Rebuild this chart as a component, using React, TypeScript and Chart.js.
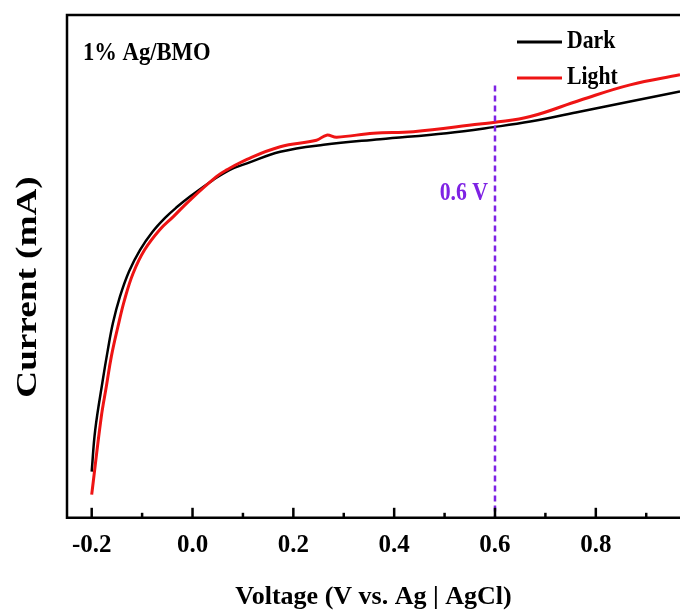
import React, { useEffect, useRef } from 'react';
import { Chart, registerables } from 'chart.js';

Chart.register(...registerables);

// ---- data (current in arbitrary units, no y tick labels) ----
const darkVoltage = [-0.2, -0.193, -0.178, -0.168, -0.158, -0.144, -0.126, -0.104, -0.08, -0.055, -0.031, -0.005, 0.041, 0.074, 0.108, 0.174, 0.26, 0.372, 0.504, 0.597, 0.67, 0.77, 0.868, 0.967];
const darkCurrent = [9.2, 17.5, 27.4, 33.4, 38.7, 44.0, 49.0, 53.3, 56.8, 59.6, 61.8, 63.9, 67.2, 69.2, 70.5, 72.8, 74.2, 75.3, 76.5, 77.7, 78.8, 80.8, 82.8, 84.8];
const lightVoltage = [-0.2, -0.181, -0.171, -0.161, -0.148, -0.135, -0.118, -0.095, -0.065, -0.038, -0.005, 0.048, 0.068, 0.108, 0.174, 0.246, 0.266, 0.286, 0.359, 0.438, 0.57, 0.597, 0.67, 0.77, 0.868, 0.967];
const lightCurrent = [4.6, 20.1, 26.1, 32.1, 38.0, 43.3, 48.6, 53.3, 57.3, 59.9, 63.2, 67.9, 69.2, 71.3, 73.8, 75.1, 76.1, 75.7, 76.5, 76.8, 78.3, 78.6, 79.8, 83.1, 86.1, 88.1];
const seriesLabels = ['Dark', 'Light'];
const majorTicks = [-0.2, 0.0, 0.2, 0.4, 0.6, 0.8];
const minorTicks = [-0.1, 0.1, 0.3, 0.5, 0.7, 0.9];
const markerVoltage = 0.6;
const markerTopCurrent = 86;
const markerLabel = '0.6 V';
const sampleLabel = '1% Ag/BMO';
const xTitle = 'Voltage (V vs. Ag | AgCl)';
const yTitle = 'Current (mA)';

const FONT = "'Liberation Serif', 'Times New Roman', serif";
const PURPLE = '#7e22e4';
const RED = '#ee1414';
const BLACK = '#000000';

function drawText(ctx: any, text: string, x: number, y: number, size: number, color: string, align: string, sx: number) {
  ctx.save();
  ctx.translate(x, y);
  ctx.scale(sx, 1);
  ctx.fillStyle = color;
  ctx.font = `bold ${size}px ${FONT}`;
  ctx.textAlign = align;
  ctx.textBaseline = 'middle';
  ctx.fillText(text, 0, 0);
  ctx.restore();
}

const decorPlugin = {
  id: 'decor',
  afterDatasetsDraw(chart: any) {
    const { ctx, chartArea: a, scales } = chart;
    const x = scales.x;
    const y = scales.y;
    ctx.save();
    // vertical dashed marker
    const mx = x.getPixelForValue(markerVoltage);
    ctx.strokeStyle = PURPLE;
    ctx.lineWidth = 2.5;
    ctx.setLineDash([6, 4]);
    ctx.beginPath();
    ctx.moveTo(mx, y.getPixelForValue(markerTopCurrent));
    ctx.lineTo(mx, a.bottom);
    ctx.stroke();
    ctx.setLineDash([]);
    drawText(ctx, markerLabel, mx - 7, 194, 25, PURPLE, 'right', 0.87);

    // frame (left, top, bottom)
    ctx.strokeStyle = '#000';
    ctx.lineWidth = 2.5;
    ctx.beginPath();
    ctx.moveTo(a.right + 2, a.top);
    ctx.lineTo(a.left, a.top);
    ctx.lineTo(a.left, a.bottom);
    ctx.lineTo(a.right + 2, a.bottom);
    ctx.stroke();

    // inward ticks
    majorTicks.forEach((v) => {
      const px = x.getPixelForValue(v);
      ctx.beginPath();
      ctx.moveTo(px, a.bottom);
      ctx.lineTo(px, a.bottom - 10);
      ctx.stroke();
    });
    minorTicks.forEach((v) => {
      const px = x.getPixelForValue(v);
      ctx.beginPath();
      ctx.moveTo(px, a.bottom);
      ctx.lineTo(px, a.bottom - 5);
      ctx.stroke();
    });

    // sample label
    drawText(ctx, sampleLabel, a.left + 16, 53, 26, '#000', 'left', 0.87);

    // legend
    chart.data.datasets.forEach((ds: any, i: number) => {
      const ly = 42 + i * 36;
      ctx.strokeStyle = ds.borderColor;
      ctx.lineWidth = 3;
      ctx.beginPath();
      ctx.moveTo(517, ly);
      ctx.lineTo(562, ly);
      ctx.stroke();
      drawText(ctx, ds.label, 567, ly, 25, '#000', 'left', 0.87);
    });

    // y axis title (rotated)
    ctx.save();
    ctx.translate(28, 287);
    ctx.rotate(-Math.PI / 2);
    ctx.scale(1.2, 0.95);
    ctx.fillStyle = '#000';
    ctx.font = `bold 31px ${FONT}`;
    ctx.textAlign = 'center';
    ctx.textBaseline = 'middle';
    ctx.fillText(yTitle, 0, 0);
    ctx.restore();

    ctx.restore();
  },
};

export default function App() {
  const canvasRef = useRef<HTMLCanvasElement | null>(null);

  useEffect(() => {
    const canvas = canvasRef.current;
    if (!canvas) return;
    const chart = new Chart(canvas, {
      type: 'line',
      data: {
        datasets: [
          {
            label: seriesLabels[0],
            data: darkVoltage.map((v, i) => ({ x: v, y: darkCurrent[i] })),
            borderColor: BLACK,
            borderWidth: 2.5,
            pointRadius: 0,
            tension: 0.4,
            order: 1,
          },
          {
            label: seriesLabels[1],
            data: lightVoltage.map((v, i) => ({ x: v, y: lightCurrent[i] })),
            borderColor: RED,
            borderWidth: 3,
            pointRadius: 0,
            tension: 0.4,
            order: 0,
          },
        ],
      },
      options: {
        animation: false,
        responsive: false,
        maintainAspectRatio: false,
        devicePixelRatio: 1,
        layout: { padding: { top: 15, left: 67, right: 0, bottom: 0 } },
        plugins: { legend: { display: false }, tooltip: { enabled: false } },
        scales: {
          x: {
            type: 'linear',
            min: -0.249,
            max: 0.967,
            afterBuildTicks: (scale: any) => {
              scale.ticks = majorTicks.map((v) => ({ value: v }));
            },
            grid: { display: false, drawTicks: false },
            border: { display: false },
            ticks: {
              color: '#000',
              font: { family: FONT, size: 25, weight: 'bold' },
              padding: 13,
              maxRotation: 0,
              callback: (v: any) => Number(v).toFixed(1),
            },
            title: {
              display: true,
              text: xTitle,
              color: '#000',
              font: { family: FONT, size: 26, weight: 'bold' },
              padding: { top: 8, bottom: 2 },
            },
          },
          y: {
            type: 'linear',
            display: false,
            min: 0,
            max: 100,
          },
        },
      },
      plugins: [decorPlugin],
    } as any);
    return () => chart.destroy();
  }, []);

  return (
    <div style={{ position: 'fixed', left: 0, top: 0, width: 680, height: 615, background: '#fff' }}>
      <canvas ref={canvasRef} width={680} height={615} style={{ display: 'block' }} />
    </div>
  );
}
